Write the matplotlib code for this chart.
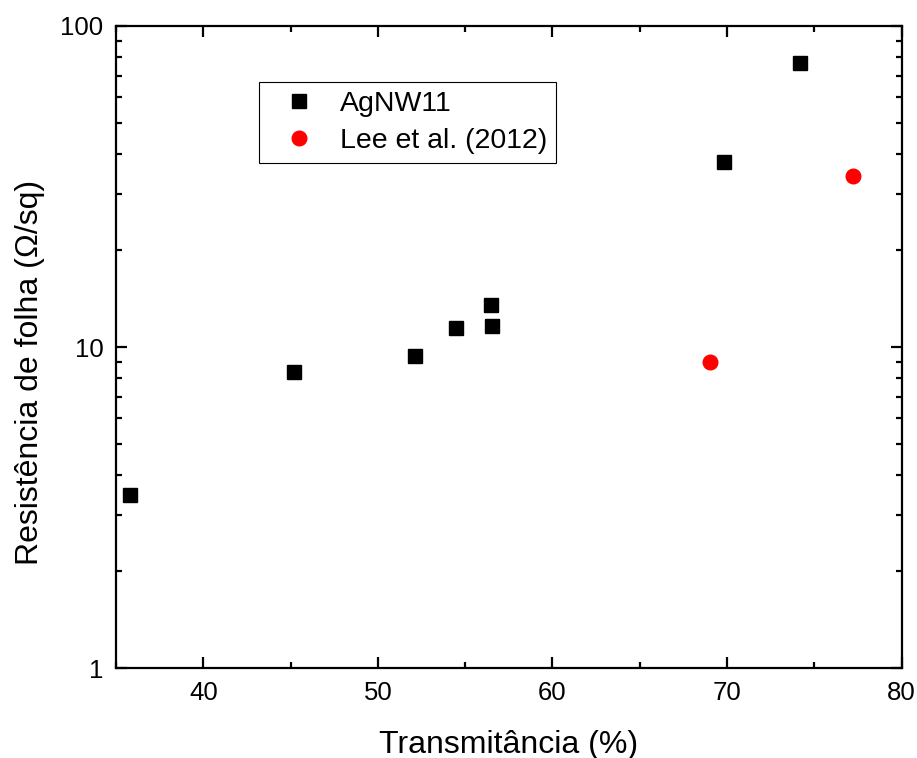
import matplotlib
matplotlib.use("Agg")
import matplotlib.pyplot as plt
from matplotlib.ticker import LogLocator, FixedLocator, NullFormatter, FuncFormatter

plt.rcParams['font.family'] = ['Liberation Sans', 'DejaVu Sans']

agnw_T = [35.8, 45.2, 52.1, 54.45, 56.45, 56.55, 69.8, 74.2]
agnw_R = [3.46, 8.36, 9.37, 11.43, 13.5, 11.65, 37.7, 76.5]
lee_T = [69.0, 77.2]
lee_R = [8.98, 34.1]

x_major = [40, 50, 60, 70, 80]
x_minor = [35, 45, 55, 65, 75]
y_major = [1, 10, 100]

fig = plt.figure(figsize=(9.17, 7.58), dpi=100)
ax = fig.add_axes([0.1265, 0.1187, 0.8568, 0.847])

ax.plot(agnw_T, agnw_R, linestyle='none', marker='s', markersize=9.5, color='black', label='AgNW11')
ax.plot(lee_T, lee_R, linestyle='none', marker='o', markersize=10.5, color='#ff0000', label='Lee et al. (2012)')

ax.set_yscale('log')
ax.set_xlim(35, 80)
ax.set_ylim(1, 100)
ax.xaxis.set_major_locator(FixedLocator(x_major))
ax.xaxis.set_minor_locator(FixedLocator(x_minor))
ax.yaxis.set_major_locator(FixedLocator(y_major))
ax.yaxis.set_major_formatter(FuncFormatter(lambda v, p: f"{v:g}"))
ax.yaxis.set_minor_locator(LogLocator(base=10, subs=range(2, 10)))
ax.yaxis.set_minor_formatter(NullFormatter())

for s in ax.spines.values():
    s.set_linewidth(1.6)
ax.tick_params(which='both', direction='in', top=True, right=True, width=1.6)
ax.tick_params(which='major', length=8, labelsize=18.5, pad=9)
ax.tick_params(which='minor', length=4.5)

ax.set_xlabel('Transmitância (%)', fontsize=23, labelpad=18)
ax.set_ylabel('Resistência de folha (Ω/sq)', fontsize=23)
ax.yaxis.set_label_coords(-0.091, 0.461)

leg = ax.legend(loc='upper left', bbox_to_anchor=(0.182, 0.912), fontsize=20.5,
                frameon=True, fancybox=False, edgecolor='black', framealpha=1,
                handletextpad=0.35, borderpad=0.3, labelspacing=0.4, handlelength=2.2,
                borderaxespad=0)
leg.get_frame().set_linewidth(0.8)

fig.savefig('out.png', dpi=100)
